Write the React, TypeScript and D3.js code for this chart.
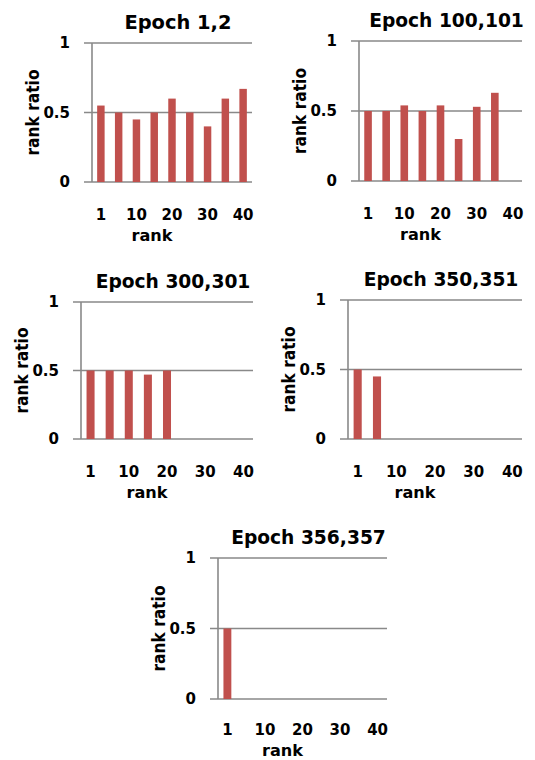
import React, { useEffect, useRef } from 'react';
import * as d3 from 'd3';

const categories = ['1', '5', '10', '15', '20', '25', '30', '35', '40'];
const tickLabels = ['1', '10', '20', '30', '40'];
const yTicks = [0, 0.5, 1];

const titles = ['Epoch 1,2', 'Epoch 100,101', 'Epoch 300,301', 'Epoch 350,351', 'Epoch 356,357'];
const epoch1 = [0.55, 0.5, 0.45, 0.5, 0.6, 0.5, 0.4, 0.6, 0.67];
const epoch100 = [0.5, 0.5, 0.54, 0.5, 0.54, 0.3, 0.53, 0.63];
const epoch300 = [0.5, 0.5, 0.5, 0.47, 0.5];
const epoch350 = [0.5, 0.45];
const epoch356 = [0.5];
const series = [epoch1, epoch100, epoch300, epoch350, epoch356];

// plot boxes: left, right, top (value 1), bottom (value 0)
const boxes = [
  [92, 252, 43, 182],
  [359, 522, 41, 181],
  [81, 253, 302, 439],
  [348, 522, 300, 439],
  [218, 387, 558, 699],
];

const width = 535;
const height = 760;
const barColor = '#C0504D';
const gridColor = '#898989';
const font = '"DejaVu Sans", Verdana, sans-serif';

const App = () => {
  const ref = useRef(null);

  useEffect(() => {
    const svg = d3.select(ref.current);
    svg.selectAll('*').remove();

    series.forEach((values, i) => {
      const [x0, x1, yTop, yBot] = boxes[i];
      const g = svg.append('g');

      const x = d3
        .scaleBand()
        .domain(categories)
        .range([x0, x1])
        .paddingInner(0.58)
        .paddingOuter(0.29);
      const y = d3.scaleLinear().domain([0, 1]).range([yBot, yTop]);

      // keep the bottom row's axis texts inside the page
      const rankY = Math.min(yBot + 59, height - 4);
      const tickY = Math.min(yBot + 40, rankY - 21);

      // gridlines
      g.selectAll('line.grid')
        .data(yTicks)
        .enter()
        .append('line')
        .attr('x1', x0 - 8)
        .attr('x2', x1)
        .attr('y1', (d) => y(d))
        .attr('y2', (d) => y(d))
        .attr('stroke', gridColor)
        .attr('stroke-width', 1.6);

      g.append('line')
        .attr('x1', x0)
        .attr('x2', x0)
        .attr('y1', y(1))
        .attr('y2', y(0))
        .attr('stroke', gridColor)
        .attr('stroke-width', 1.6);

      // bars
      g.selectAll('rect')
        .data(values)
        .enter()
        .append('rect')
        .attr('x', (d, j) => x(categories[j]))
        .attr('width', x.bandwidth())
        .attr('y', (d) => y(d))
        .attr('height', (d) => y(0) - y(d))
        .attr('fill', barColor);

      // y tick labels
      g.selectAll('text.ytick')
        .data(yTicks)
        .enter()
        .append('text')
        .attr('x', x0 - 22)
        .attr('y', (d) => y(d))
        .attr('dy', '0.36em')
        .attr('text-anchor', 'end')
        .attr('font-family', font)
        .attr('font-weight', 'bold')
        .attr('font-size', 15)
        .text((d) => d3.format('~g')(d));

      // x tick labels
      g.selectAll('text.xtick')
        .data(tickLabels)
        .enter()
        .append('text')
        .attr('x', (d) => x(d) + x.bandwidth() / 2)
        .attr('y', tickY)
        .attr('text-anchor', 'middle')
        .attr('font-family', font)
        .attr('font-weight', 'bold')
        .attr('font-size', 15)
        .text((d) => d);

      const mid = (x0 + x1) / 2;

      g.append('text')
        .attr('x', mid + 6)
        .attr('y', yTop - 14)
        .attr('text-anchor', 'middle')
        .attr('font-family', font)
        .attr('font-weight', 'bold')
        .attr('font-size', 20)
        .attr('textLength', titles[i].length * 11.9)
        .attr('lengthAdjust', 'spacingAndGlyphs')
        .text(titles[i]);

      g.append('text')
        .attr('x', mid - 20)
        .attr('y', rankY)
        .attr('text-anchor', 'middle')
        .attr('font-family', font)
        .attr('font-weight', 'bold')
        .attr('font-size', 16)
        .attr('textLength', 41)
        .attr('lengthAdjust', 'spacingAndGlyphs')
        .text('rank');

      g.append('text')
        .attr('transform', `translate(${x0 - 59}, ${(yTop + yBot) / 2}) rotate(-90)`)
        .attr('text-anchor', 'middle')
        .attr('dy', '0.35em')
        .attr('font-family', font)
        .attr('font-weight', 'bold')
        .attr('font-size', 17)
        .attr('textLength', 86)
        .attr('lengthAdjust', 'spacingAndGlyphs')
        .text('rank ratio');
    });
  }, []);

  return (
    <svg
      ref={ref}
      width={width}
      height={height}
      style={{ position: 'absolute', left: 0, top: 0, background: '#fff' }}
    />
  );
};

export default App;
